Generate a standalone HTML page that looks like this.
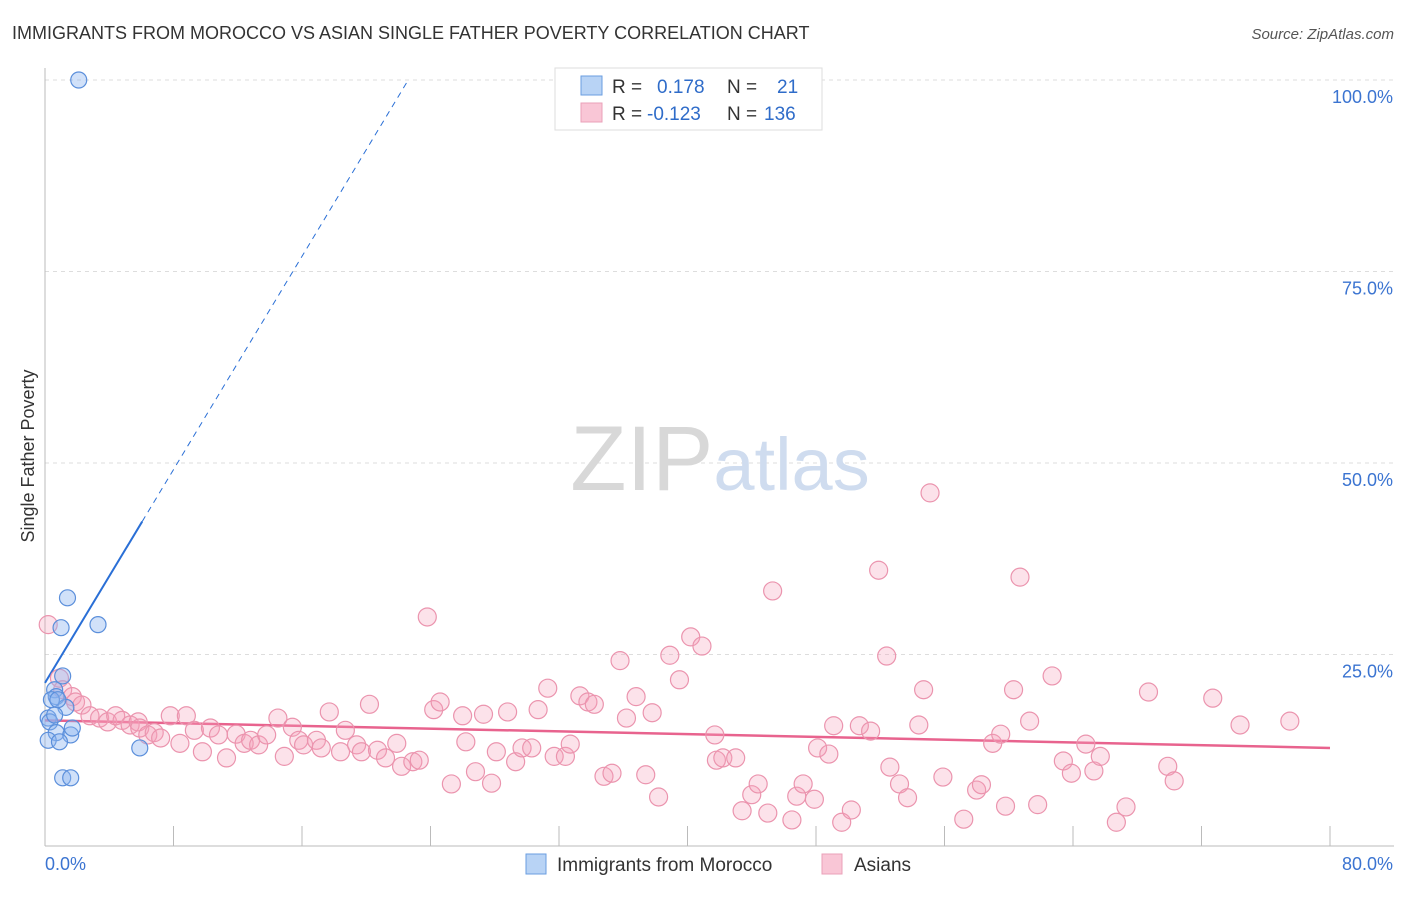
<!DOCTYPE html>
<html><head><meta charset="utf-8"><style>
body{margin:0;background:#fff;font-family:"Liberation Sans",sans-serif}
svg text{font-family:"Liberation Sans",sans-serif}
</style></head><body>
<svg id="chart" width="1406" height="892">
<text x="12" y="39" font-size="18" fill="#333">IMMIGRANTS FROM MOROCCO VS ASIAN SINGLE FATHER POVERTY CORRELATION CHART</text>
<text x="1394" y="39" font-size="15" fill="#555" text-anchor="end" font-style="italic">Source: ZipAtlas.com</text>
<text x="34" y="456" font-size="18" fill="#333" text-anchor="middle" transform="rotate(-90 34 456)">Single Father Poverty</text>
<g id="grid"></g>
<g id="axes"></g>
<text x="720" y="490" font-size="92" fill="#ddd" text-anchor="middle" font-family="Liberation Serif"><tspan fill="#d8d8d8">ZIP</tspan><tspan fill="#cfdcef" font-family="Liberation Sans" font-size="74">atlas</tspan></text>
<g id="trend"></g>
<g id="pts"></g>
<g>
<rect x="555" y="68" width="267" height="62" fill="#fff" stroke="#ddd"/>
<rect x="581" y="76" width="21" height="19" fill="#b8d3f5" stroke="#6a9ee0"/>
<rect x="581" y="103" width="21" height="19" fill="#f9c6d6" stroke="#eaa0b8"/>
<text x="612" y="93" font-size="19" fill="#333">R = <tspan x="657" fill="#2f6cc9">0.178</tspan><tspan x="727" fill="#333">N =</tspan><tspan x="777" fill="#2f6cc9">21</tspan></text>
<text x="612" y="120" font-size="19" fill="#333">R = <tspan x="647" fill="#2f6cc9">-0.123</tspan><tspan x="727" fill="#333">N =</tspan><tspan x="764" fill="#2f6cc9">136</tspan></text>
</g>
<g>
<rect x="526" y="854" width="20" height="20" fill="#b8d3f5" stroke="#6a9ee0"/>
<text x="557" y="871" font-size="19" fill="#333">Immigrants from Morocco</text>
<rect x="822" y="854" width="20" height="20" fill="#f9c6d6" stroke="#eaa0b8"/>
<text x="854" y="871" font-size="19" fill="#333">Asians</text>
</g>
</svg>
<script>
const yTicks=[25,50,75,100];
const yTickLabels=["25.0%","50.0%","75.0%","100.0%"];
const xTicks=[0,8,16,24,32,40,48,56,64,72,80];
const xEndLabels=["0.0%","80.0%"];
const blueX=[2.1,1.4,1.0,3.3,1.1,0.6,0.7,0.4,1.3,0.2,0.3,0.7,1.6,0.2,0.9,5.9,1.1,1.6,1.7,0.6,0.8];
const blueY=[100,32.4,28.5,28.9,22.2,20.4,19.5,19.1,18.1,16.7,16.2,14.8,14.5,13.8,13.6,12.8,8.9,8.9,15.4,17.1,19.1];
const pinkX=[0.2,0.9,1.1,1.7,1.9,2.3,2.8,3.4,3.9,4.4,4.8,5.3,5.8,5.9,6.4,6.8,7.2,7.8,8.4,8.8,9.3,9.8,10.3,10.8,11.3,11.9,12.4,12.8,13.3,13.8,14.5,14.9,15.4,15.8,16.1,16.9,17.2,17.7,18.4,18.7,19.4,19.7,20.2,20.7,21.2,21.9,22.2,22.9,23.3,23.8,24.2,24.6,25.3,26.0,26.2,26.8,27.3,27.8,28.1,28.8,29.3,29.7,30.3,30.7,31.3,31.7,32.4,32.7,33.3,33.8,34.2,34.8,35.3,35.8,36.2,36.8,37.4,37.8,38.2,38.9,39.5,40.2,40.9,41.7,41.8,42.2,43.0,43.4,44.0,44.4,45.0,45.3,46.5,46.8,47.2,47.9,48.1,48.8,49.1,49.6,50.2,50.7,51.4,51.9,52.4,52.6,53.2,53.7,54.4,54.7,55.1,55.9,57.2,58.0,58.3,59.0,59.5,59.8,60.3,60.7,61.3,61.8,62.7,63.4,63.9,64.8,65.3,65.7,66.7,67.3,68.7,69.9,70.3,72.7,74.4,77.5];
const pinkY=[28.9,21.9,20.4,19.5,18.8,18.4,17.0,16.7,16.2,17.0,16.4,15.8,16.2,15.4,14.5,14.8,14.1,17.0,13.4,17.0,15.1,12.3,15.4,14.5,11.5,14.6,13.4,13.8,13.2,14.5,16.7,11.7,15.5,13.8,13.2,13.8,12.8,17.5,12.3,15.1,13.2,12.3,18.5,12.5,11.5,13.4,10.4,11.0,11.2,29.9,17.8,18.8,8.1,17.0,13.6,9.7,17.2,8.2,12.3,17.5,11.0,12.8,12.8,17.8,20.6,11.7,11.7,13.3,19.6,18.8,18.5,9.1,9.5,24.2,16.7,19.5,9.3,17.4,6.4,24.9,21.7,27.3,26.1,14.5,11.2,11.5,11.5,4.6,6.7,8.1,4.3,33.3,3.4,6.5,8.1,6.1,12.8,12.0,15.7,3.1,4.7,15.7,15.0,36.0,24.8,10.3,8.1,6.3,15.8,20.4,46.1,9.0,3.5,7.3,8.0,13.4,14.6,5.2,20.4,35.1,16.3,5.4,22.2,11.1,9.5,13.3,9.8,11.7,3.1,5.1,20.1,10.4,8.5,19.3,15.8,16.3];
const blueTrend=[21.3,3.48];
const pinkTrend=[16.4,-0.045];
const NS="http://www.w3.org/2000/svg";
const X0=45,X1=1330,Y0=846,Y100=80;
const sx=v=>X0+v/80*(X1-X0);
const sy=v=>Y0-v/100*(Y0-Y100);
function mk(tag,attrs,parent){const e=document.createElementNS(NS,tag);for(const k in attrs)e.setAttribute(k,attrs[k]);parent.appendChild(e);return e;}
const grid=document.getElementById('grid'),axes=document.getElementById('axes');
yTicks.forEach((t,i)=>{
 const l=mk('line',{x1:X0,x2:1394,y1:sy(t),y2:sy(t),stroke:'#ddd','stroke-dasharray':'4,4'},grid);
 
 
 const tx=mk('text',{x:1393,y:sy(t)+23,'font-size':18,fill:'#3b74d1','text-anchor':'end'},axes);
 tx.textContent=yTickLabels[i];
 
 
});
const xa=mk('line',{x1:X0,x2:1394,y1:Y0,y2:Y0,stroke:'#bbb'},axes);


const ya=mk('line',{x1:X0,x2:X0,y1:68,y2:Y0,stroke:'#bbb'},axes);


xTicks.forEach(t=>{
 const l=mk('line',{x1:sx(t),x2:sx(t),y1:826,y2:Y0,stroke:'#bbb'},axes);
 
 
});
const xl0=mk('text',{x:45,y:870,'font-size':18,fill:'#3b74d1'},axes);xl0.textContent=xEndLabels[0];


const xl1=mk('text',{x:1393,y:870,'font-size':18,fill:'#3b74d1','text-anchor':'end'},axes);xl1.textContent=xEndLabels[1];


const pts=document.getElementById('pts');
pinkX.forEach((x,i)=>{
 const c=mk('circle',{cx:sx(x),cy:sy(pinkY[i]),r:9,fill:'rgba(244,160,185,0.3)',stroke:'#eb94ae','stroke-width':1.2},pts);
 
 
});
blueX.forEach((x,i)=>{
 const c=mk('circle',{cx:sx(x),cy:sy(blueY[i]),r:8,fill:'rgba(140,180,240,0.4)',stroke:'#5b8fdb','stroke-width':1.2},pts);
 
 
});
const tr=document.getElementById('trend');
const bEnd=6.05, bDash=(100-blueTrend[0])/blueTrend[1];
const b1=mk('line',{x1:sx(0),y1:sy(blueTrend[0]),x2:sx(bEnd),y2:sy(blueTrend[0]+blueTrend[1]*bEnd),stroke:'#2a6fd6','stroke-width':2},tr);


const b2=mk('line',{x1:sx(bEnd),y1:sy(blueTrend[0]+blueTrend[1]*bEnd),x2:sx(bDash),y2:sy(100),stroke:'#2a6fd6','stroke-width':1,'stroke-dasharray':'6,5'},tr);


const p1=mk('line',{x1:sx(0),y1:sy(pinkTrend[0]),x2:sx(80),y2:sy(pinkTrend[0]+pinkTrend[1]*80),stroke:'#e8638e','stroke-width':2.5},tr);


</script>
</body></html>
